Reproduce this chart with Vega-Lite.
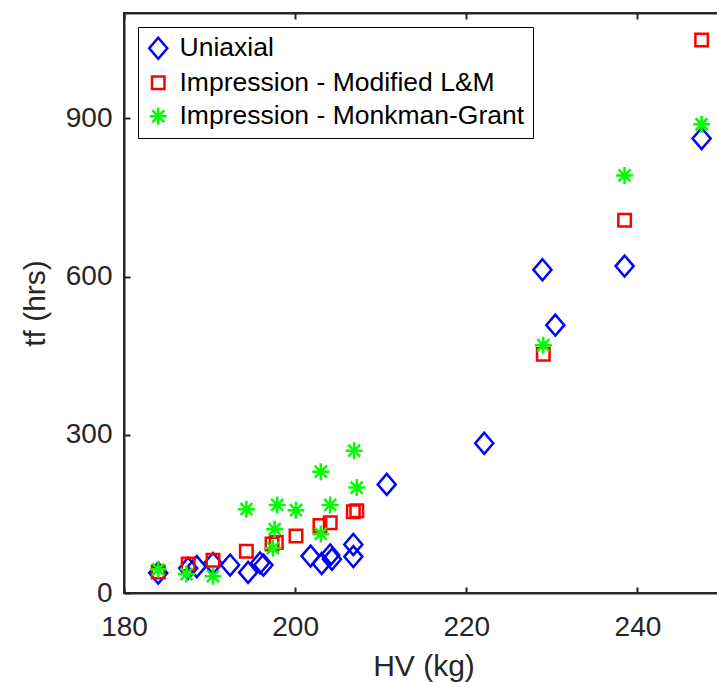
{
  "$schema": "https://vega.github.io/schema/vega-lite/v6.json",
  "autosize": "none",
  "width": 599,
  "height": 580,
  "padding": {"left": 124, "top": 13, "right": 0, "bottom": 89},
  "background": "white",
  "config": {
    "font": "Liberation Sans",
    "view": {"stroke": "#262626", "strokeWidth": 2},
    "axis": {
      "grid": false,
      "labelFlush": false,
      "domainColor": "#262626",
      "domainWidth": 2,
      "tickColor": "#262626",
      "tickWidth": 2,
      "tickSize": -6,
      "labelColor": "#262626",
      "labelFont": "Liberation Sans",
      "labelFontSize": 28,
      "titleColor": "#262626",
      "titleFont": "Liberation Sans",
      "titleFontSize": 30,
      "titleFontWeight": "normal"
    },
    "legend": {
      "labelFont": "Liberation Sans",
      "labelFontSize": 26.5,
      "labelColor": "#000000"
    }
  },
  "data": {
    "values": [
      {"series": "Uniaxial", "hv": 184.0, "tf": 38},
      {"series": "Uniaxial", "hv": 187.5, "tf": 47},
      {"series": "Uniaxial", "hv": 188.5, "tf": 50},
      {"series": "Uniaxial", "hv": 190.4, "tf": 56},
      {"series": "Uniaxial", "hv": 192.4, "tf": 53},
      {"series": "Uniaxial", "hv": 194.5, "tf": 39},
      {"series": "Uniaxial", "hv": 195.9, "tf": 57},
      {"series": "Uniaxial", "hv": 196.3, "tf": 53},
      {"series": "Uniaxial", "hv": 201.8, "tf": 70},
      {"series": "Uniaxial", "hv": 203.1, "tf": 56},
      {"series": "Uniaxial", "hv": 204.1, "tf": 72},
      {"series": "Uniaxial", "hv": 204.3, "tf": 64},
      {"series": "Uniaxial", "hv": 206.8, "tf": 92},
      {"series": "Uniaxial", "hv": 206.8, "tf": 69},
      {"series": "Uniaxial", "hv": 210.7, "tf": 206},
      {"series": "Uniaxial", "hv": 222.1, "tf": 284},
      {"series": "Uniaxial", "hv": 228.9, "tf": 613},
      {"series": "Uniaxial", "hv": 230.4, "tf": 508},
      {"series": "Uniaxial", "hv": 238.5, "tf": 620},
      {"series": "Uniaxial", "hv": 247.5, "tf": 862},
      {"series": "Impression - Modified L&M", "hv": 184.0, "tf": 40},
      {"series": "Impression - Modified L&M", "hv": 187.5, "tf": 55},
      {"series": "Impression - Modified L&M", "hv": 190.4, "tf": 62},
      {"series": "Impression - Modified L&M", "hv": 194.3, "tf": 79},
      {"series": "Impression - Modified L&M", "hv": 197.3, "tf": 93},
      {"series": "Impression - Modified L&M", "hv": 197.8, "tf": 96},
      {"series": "Impression - Modified L&M", "hv": 200.1, "tf": 108},
      {"series": "Impression - Modified L&M", "hv": 202.9, "tf": 128},
      {"series": "Impression - Modified L&M", "hv": 204.1, "tf": 133},
      {"series": "Impression - Modified L&M", "hv": 206.8, "tf": 154},
      {"series": "Impression - Modified L&M", "hv": 207.2, "tf": 156},
      {"series": "Impression - Modified L&M", "hv": 229.0, "tf": 453},
      {"series": "Impression - Modified L&M", "hv": 238.5, "tf": 707},
      {"series": "Impression - Modified L&M", "hv": 247.5, "tf": 1049},
      {"series": "Impression - Monkman-Grant", "hv": 184.0, "tf": 45},
      {"series": "Impression - Monkman-Grant", "hv": 187.3, "tf": 36},
      {"series": "Impression - Monkman-Grant", "hv": 190.4, "tf": 32},
      {"series": "Impression - Monkman-Grant", "hv": 194.3, "tf": 159},
      {"series": "Impression - Monkman-Grant", "hv": 197.9, "tf": 167},
      {"series": "Impression - Monkman-Grant", "hv": 197.6, "tf": 121},
      {"series": "Impression - Monkman-Grant", "hv": 197.4, "tf": 85},
      {"series": "Impression - Monkman-Grant", "hv": 200.1, "tf": 157},
      {"series": "Impression - Monkman-Grant", "hv": 203.0, "tf": 230},
      {"series": "Impression - Monkman-Grant", "hv": 203.0, "tf": 112},
      {"series": "Impression - Monkman-Grant", "hv": 204.1, "tf": 167},
      {"series": "Impression - Monkman-Grant", "hv": 206.9, "tf": 270},
      {"series": "Impression - Monkman-Grant", "hv": 207.2, "tf": 200},
      {"series": "Impression - Monkman-Grant", "hv": 229.0, "tf": 470},
      {"series": "Impression - Monkman-Grant", "hv": 238.5, "tf": 792},
      {"series": "Impression - Monkman-Grant", "hv": 247.5, "tf": 889}
    ]
  },
  "layer": [
    {
      "mark": {"type": "point", "filled": false, "strokeWidth": 2.5, "opacity": 1, "size": 100},
      "encoding": {
        "x": {
          "field": "hv", "type": "quantitative",
          "scale": {"domain": [180, 250], "nice": false, "zero": false},
          "axis": {
            "orient": "bottom",
            "values": [180, 200, 220, 240],
            "title": "HV (kg)",
            "labelBaseline": "alphabetic",
            "labelPadding": 48,
            "titleBaseline": "alphabetic",
            "titleY": 82
          }
        },
        "y": {
          "field": "tf", "type": "quantitative",
          "scale": {"domain": [0, 1100], "nice": false},
          "axis": {
            "orient": "left",
            "values": [0, 300, 600, 900],
            "title": "tf (hrs)",
            "labelPadding": 18,
            "titleAngle": -90,
            "titleBaseline": "alphabetic",
            "titleX": -80
          }
        },
        "color": {
          "field": "series", "type": "nominal",
          "sort": ["Uniaxial", "Impression - Modified L&M", "Impression - Monkman-Grant"],
          "scale": {
            "domain": ["Uniaxial", "Impression - Modified L&M", "Impression - Monkman-Grant"],
            "range": ["#0000ff", "#ff0000", "#00ff00"]
          },
          "legend": {
            "title": null,
            "orient": "top-left",
            "offset": 14,
            "strokeColor": "#000000",
            "fillColor": "#ffffff",
            "padding": 8,
            "rowPadding": 5.5,
            "symbolOffset": -1,
            "labelOffset": 8,
            "symbolSize": 100,
            "symbolStrokeWidth": 2.5,
            "labelLimit": 600,
            "encode": {"legend": {"update": {"strokeWidth": {"value": 2}}}}
          }
        },
        "shape": {
          "field": "series", "type": "nominal",
          "sort": ["Uniaxial", "Impression - Modified L&M", "Impression - Monkman-Grant"],
          "scale": {
            "domain": ["Uniaxial", "Impression - Modified L&M", "Impression - Monkman-Grant"],
            "range": [
              "M0,-2.1L1.8,0L0,2.1L-1.8,0Z",
              "M-1.25,-1.25L1.25,-1.25L1.25,1.25L-1.25,1.25Z",
              "M0,-1.7L0,1.7M-1.7,0L1.7,0M-1.2,-1.2L1.2,1.2M-1.2,1.2L1.2,-1.2"
            ]
          },
          "legend": {
            "title": null,
            "orient": "top-left",
            "offset": 14,
            "strokeColor": "#000000",
            "fillColor": "#ffffff",
            "padding": 8,
            "rowPadding": 5.5,
            "symbolOffset": -1,
            "labelOffset": 8,
            "symbolSize": 100,
            "symbolStrokeWidth": 2.5,
            "labelLimit": 600,
            "encode": {"legend": {"update": {"strokeWidth": {"value": 2}}}}
          }
        }
      }
    },
    {
      "mark": {"type": "point", "opacity": 0},
      "encoding": {
        "x": {
          "field": "hv", "type": "quantitative",
          "scale": {"domain": [180, 250], "nice": false, "zero": false},
          "axis": {"orient": "top", "values": [180, 200, 220, 240], "labels": false, "title": null}
        }
      }
    }
  ],
  "resolve": {"axis": {"x": "independent"}}
}
